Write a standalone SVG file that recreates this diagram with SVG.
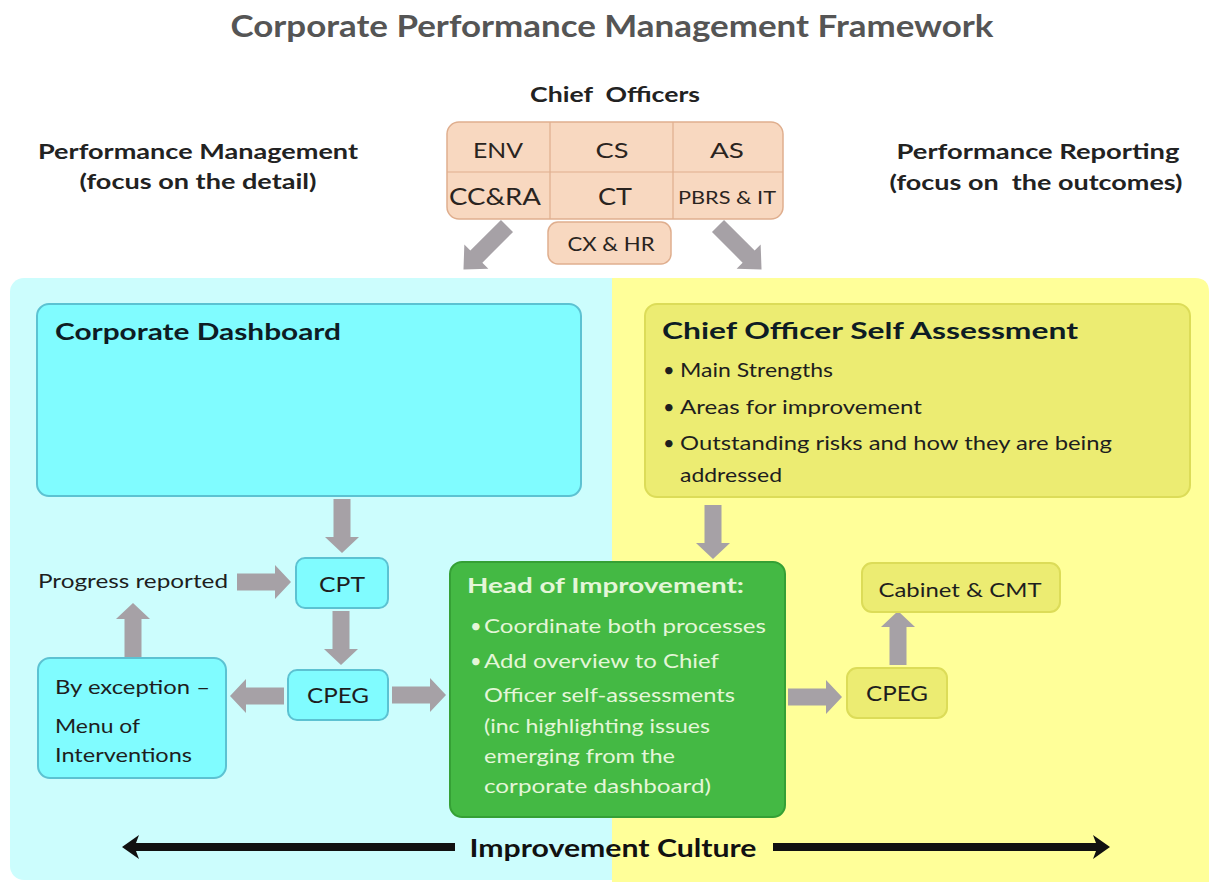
<svg xmlns="http://www.w3.org/2000/svg" width="1209" height="882" viewBox="0 0 1209 882">
  <style>
    text { font-family: Lato, "Open Sans", "Liberation Sans", sans-serif; fill: #1e1e1e; }
    .b { font-weight: bold; }
    .mid { text-anchor: middle; }
    .title { font-size: 30px; font-weight: bold; fill: #555555; }
    .head { font-size: 20px; font-weight: bold; fill: #222222; }
    .cell { font-size: 22px; fill: #2a2420; }
    .boxtitle { font-size: 23px; font-weight: bold; fill: #0e1c24; }
    .item { font-size: 20px; fill: #1e1e1e; }
    .small { font-size: 22px; }
    .lite { fill: #e4f6d8; }
    .peach { fill: #f8d8c0; stroke: #dfae8e; stroke-width: 1.5; }
    .cyanbox { fill: #80fcff; stroke: #5cc2d2; stroke-width: 2; }
    .ybox { fill: #ecec72; stroke: #dcdc58; stroke-width: 2; }
    .green { fill: #44b944; stroke: #35a035; stroke-width: 2; }
    .grid { stroke: #dfae8e; stroke-width: 1.2; fill: none; }
    .blockarrow { fill: #a6a1a6; }
    .culture { fill: #111111; }
  </style>
  <defs>
    <!-- block arrow pointing right, tail centre at origin, 54 long -->
    <path id="blk" d="M0,-8.5 H38 V-17 L54,0 L38,17 V8.5 H0 Z"/>
  </defs>

  <rect width="1209" height="882" fill="#ffffff"/>

  <!-- background panels -->
  <g id="panels">
    <rect x="10" y="278" width="640" height="602" rx="14" fill="#ccfdfd"/>
    <path d="M612,278 H1195 Q1209,278 1209,292 V882 H612 Z" fill="#ffff99"/>
  </g>

  <!-- headings -->
  <g id="headings">
    <text class="title mid" x="612" y="37" textLength="763" lengthAdjust="spacingAndGlyphs">Corporate Performance Management Framework</text>
    <text class="head mid" x="615" y="102" xml:space="preserve" textLength="170" lengthAdjust="spacingAndGlyphs">Chief  Officers</text>
    <text class="head mid" x="198" y="159" textLength="320" lengthAdjust="spacingAndGlyphs">Performance Management</text>
    <text class="head mid" x="198" y="189" textLength="237" lengthAdjust="spacingAndGlyphs">(focus on the detail)</text>
    <text class="head mid" x="1038" y="159" textLength="283" lengthAdjust="spacingAndGlyphs">Performance Reporting</text>
    <text class="head mid" x="1036" y="190" xml:space="preserve" textLength="293" lengthAdjust="spacingAndGlyphs">(focus on  the outcomes)</text>
  </g>

  <!-- connectors -->
  <g id="connectors" class="blockarrow">
    <use href="#blk" transform="translate(507,226) rotate(135) scale(1.14,1)"/>
    <use href="#blk" transform="translate(718,226) rotate(45) scale(1.14,1)"/>
    <use href="#blk" transform="translate(342,499) rotate(90)"/>
    <use href="#blk" transform="translate(237,582)"/>
    <use href="#blk" transform="translate(341,611) rotate(90)"/>
    <use href="#blk" transform="translate(284,696) rotate(180)"/>
    <use href="#blk" transform="translate(133,657) rotate(-90)"/>
    <use href="#blk" transform="translate(392,695)"/>
    <use href="#blk" transform="translate(713,505) rotate(90)"/>
    <use href="#blk" transform="translate(788,697)"/>
    <use href="#blk" transform="translate(898,665) rotate(-90)"/>
  </g>

  <!-- chief officers table -->
  <g id="chief-officers">
    <rect class="peach" x="447" y="122" width="336" height="97" rx="12"/>
    <path class="grid" d="M447,172 H783 M550,122 V219 M673,122 V219"/>
    <text class="cell mid" x="498" y="158" textLength="50" lengthAdjust="spacingAndGlyphs">ENV</text>
    <text class="cell mid" x="612" y="158" textLength="33" lengthAdjust="spacingAndGlyphs">CS</text>
    <text class="cell mid" x="727" y="158" textLength="34" lengthAdjust="spacingAndGlyphs">AS</text>
    <text class="cell mid" x="495" y="205" style="font-size:24px" textLength="92" lengthAdjust="spacingAndGlyphs">CC&amp;RA</text>
    <text class="cell mid" x="615" y="205" style="font-size:24px" textLength="34" lengthAdjust="spacingAndGlyphs">CT</text>
    <text class="cell mid" x="727" y="204" style="font-size:17px" textLength="98" lengthAdjust="spacingAndGlyphs">PBRS &amp; IT</text>
  </g>
  <g id="cx-hr">
    <rect class="peach" x="548" y="222" width="123" height="42" rx="10"/>
    <text class="cell mid" x="611" y="251" style="font-size:20px" textLength="87" lengthAdjust="spacingAndGlyphs">CX &amp; HR</text>
  </g>

  <!-- performance management side -->
  <g id="corporate-dashboard">
    <rect class="cyanbox" x="37" y="304" width="544" height="192" rx="12"/>
    <text class="boxtitle" x="55" y="340" textLength="286" lengthAdjust="spacingAndGlyphs">Corporate Dashboard</text>
  </g>
  <g id="progress-reported">
    <text class="item" x="38" y="588" textLength="190" lengthAdjust="spacingAndGlyphs">Progress reported</text>
  </g>
  <g id="cpt">
    <rect class="cyanbox" x="296" y="558" width="92" height="50" rx="9"/>
    <text class="item small mid" x="342" y="592" textLength="46" lengthAdjust="spacingAndGlyphs">CPT</text>
  </g>
  <g id="cpeg-left">
    <rect class="cyanbox" x="288" y="670" width="100" height="50" rx="9"/>
    <text class="item small mid" x="338" y="703" textLength="62" lengthAdjust="spacingAndGlyphs">CPEG</text>
  </g>
  <g id="by-exception">
    <rect class="cyanbox" x="38" y="658" width="188" height="120" rx="12"/>
    <text class="item" x="55" y="694" textLength="155" lengthAdjust="spacingAndGlyphs">By exception –</text>
    <text class="item" x="55" y="733" textLength="85" lengthAdjust="spacingAndGlyphs">Menu of</text>
    <text class="item" x="55" y="762" textLength="137" lengthAdjust="spacingAndGlyphs">Interventions</text>
  </g>

  <!-- performance reporting side -->
  <g id="self-assessment">
    <rect class="ybox" x="645" y="304" width="545" height="193" rx="12"/>
    <text class="boxtitle" x="662" y="339" textLength="416" lengthAdjust="spacingAndGlyphs">Chief Officer Self Assessment</text>
    <text class="item" x="663" y="377">•</text>
    <text class="item" x="680" y="377" textLength="153" lengthAdjust="spacingAndGlyphs">Main Strengths</text>
    <text class="item" x="663" y="414">•</text>
    <text class="item" x="680" y="414" textLength="242" lengthAdjust="spacingAndGlyphs">Areas for improvement</text>
    <text class="item" x="663" y="450">•</text>
    <text class="item" x="680" y="450" textLength="432" lengthAdjust="spacingAndGlyphs">Outstanding risks and how they are being</text>
    <text class="item" x="680" y="482" textLength="102" lengthAdjust="spacingAndGlyphs">addressed</text>
  </g>
  <g id="cabinet-cmt">
    <rect class="ybox" x="862" y="563" width="198" height="49" rx="10"/>
    <text class="item mid" x="960" y="597" textLength="163" lengthAdjust="spacingAndGlyphs">Cabinet &amp; CMT</text>
  </g>
  <g id="cpeg-right">
    <rect class="ybox" x="847" y="668" width="100" height="50" rx="10"/>
    <text class="item small mid" x="897" y="701" textLength="62" lengthAdjust="spacingAndGlyphs">CPEG</text>
  </g>

  <!-- head of improvement -->
  <g id="head-of-improvement">
    <rect class="green" x="450" y="562" width="335" height="255" rx="12"/>
    <text class="head lite" x="467" y="593" textLength="277" lengthAdjust="spacingAndGlyphs">Head of Improvement:</text>
    <text class="item lite" x="470" y="633">•</text>
    <text class="item lite" x="484" y="633" textLength="282" lengthAdjust="spacingAndGlyphs">Coordinate both processes</text>
    <text class="item lite" x="470" y="668">•</text>
    <text class="item lite" x="484" y="668" textLength="235" lengthAdjust="spacingAndGlyphs">Add overview to Chief</text>
    <text class="item lite" x="484" y="702" textLength="251" lengthAdjust="spacingAndGlyphs">Officer self-assessments</text>
    <text class="item lite" x="484" y="733" textLength="226" lengthAdjust="spacingAndGlyphs">(inc highlighting issues</text>
    <text class="item lite" x="484" y="763" textLength="191" lengthAdjust="spacingAndGlyphs">emerging from the</text>
    <text class="item lite" x="484" y="793" textLength="227" lengthAdjust="spacingAndGlyphs">corporate dashboard)</text>
  </g>

  <!-- improvement culture band -->
  <g id="improvement-culture">
    <path class="culture" d="M122,847 L139,835 L136,843 H455 V851 H136 L139,859 Z"/>
    <path class="culture" d="M1110,847 L1093,835 L1096,843 H773 V851 H1096 L1093,859 Z"/>
    <text class="mid b" x="613" y="857" style="font-size:24px; fill:#111111" textLength="287" lengthAdjust="spacingAndGlyphs">Improvement Culture</text>
  </g>
</svg>
